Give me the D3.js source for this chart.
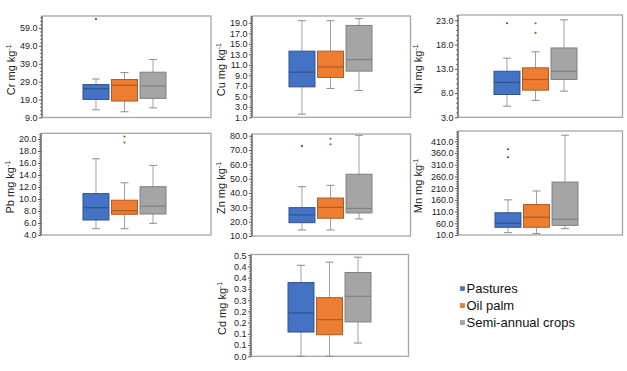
<!DOCTYPE html>
<html><head><meta charset="utf-8">
<script src="https://cdn.jsdelivr.net/npm/d3@7"></script>
<style>
html,body{margin:0;padding:0;background:#fff;}
svg{display:block;font-family:Arial,"Liberation Sans",sans-serif;}
</style></head>
<body>
<svg id="chart" width="627" height="371"></svg>
<script>
// ---------- data ----------
const categories = ["Pastures", "Oil palm", "Semi-annual crops"];
// each stat row: [lower whisker, Q1, median, Q3, upper whisker]
const crStats = [[13.3, 19.1, 25.1, 27.4, 30.5], [12.2, 18.2, 27.0, 30.2, 34.1], [14.4, 19.7, 26.6, 34.3, 41.4]];
const crOutliers = [[64.0], [], []];
const cuStats = [[1.6, 6.8, 9.6, 13.6, 19.4], [6.5, 8.6, 10.6, 13.6, 19.4], [6.1, 9.8, 12.0, 18.5, 19.8]];
const cuOutliers = [[], [], []];
const niStats = [[5.3, 7.7, 10.2, 12.5, 15.2], [6.5, 8.6, 10.8, 13.2, 16.5], [8.4, 10.8, 12.5, 17.3, 23.1]];
const niOutliers = [[22.4], [22.4, 20.4], []];
const pbStats = [[5.05, 6.5, 8.55, 10.9, 16.7], [5.05, 7.45, 8.05, 9.8, 12.7], [5.95, 7.5, 8.8, 12.05, 15.6]];
const pbOutliers = [[], [20.4, 19.4], []];
const znStats = [[14.2, 19.3, 24.7, 29.8, 44.4], [14.2, 22.4, 30.0, 36.5, 45.4], [21.9, 26.1, 29.3, 53.1, 80.3]];
const znOutliers = [[72.8], [77.9, 74.0], []];
const mnStats = [[20, 43, 60, 105, 160], [16, 43, 86, 140, 198], [37, 51, 77, 236, 436]];
const mnOutliers = [[376, 342], [], []];
const cdStats = [[0.0, 0.108, 0.193, 0.328, 0.405], [0.0, 0.096, 0.163, 0.261, 0.419], [0.059, 0.153, 0.267, 0.373, 0.441]];
const cdOutliers = [[], [], []];

const crTicks = [9, 19, 29, 39, 49, 59];
const cuTicks = [1, 3, 5, 7, 9, 11, 13, 15, 17, 19];
const niTicks = [3, 8, 13, 18, 23];
const pbTicks = [4, 6, 8, 10, 12, 14, 16, 18, 20];
const znTicks = [10, 20, 30, 40, 50, 60, 70, 80];
const mnTicks = [10, 60, 110, 160, 210, 260, 310, 360, 410];
const cdTicks = [0, 0.05, 0.10, 0.15, 0.20, 0.25, 0.30, 0.35, 0.40, 0.45];
const cdTickLabels = ["0.0", "0.1", "0.1", "0.2", "0.2", "0.3", "0.3", "0.4", "0.4", "0.5"];

// ---------- layout & style ----------
const fills = ["#4472C4", "#ED7D31", "#A5A5A5"];
const strokes = ["#2F528F", "#AE5A21", "#7F7F7F"];
const fmt1 = d3.format(".1f");

const panels = [
  {el: "Cr", stats: crStats, out: crOutliers, ticks: crTicks, dom: [9, 65.7], box: [42, 16, 211, 117.5], cx: 124.5, tOff: 27},
  {el: "Cu", stats: cuStats, out: cuOutliers, ticks: cuTicks, dom: [1, 20.3], box: [252, 16, 410.5, 117.3], cx: 330.5, tOff: 27},
  {el: "Ni", stats: niStats, out: niOutliers, ticks: niTicks, dom: [3, 24.1], box: [458, 15, 622.5, 117.3], cx: 535.5, tOff: 36},
  {el: "Pb", stats: pbStats, out: pbOutliers, ticks: pbTicks, dom: [4, 20.95], box: [41, 133.3, 211, 235], cx: 124.5, tOff: 27},
  {el: "Zn", stats: znStats, out: znOutliers, ticks: znTicks, dom: [10, 81.2], box: [252, 134, 410.5, 236], cx: 330.5, tOff: 27},
  {el: "Mn", stats: mnStats, out: mnOutliers, ticks: mnTicks, dom: [10, 454], box: [458, 131, 622.5, 235], cx: 536.5, tOff: 36},
  {el: "Cd", stats: cdStats, out: cdOutliers, ticks: cdTicks, labels: cdTickLabels, dom: [0, 0.453], box: [251, 254.5, 408.5, 356.3], cx: 329.5, tOff: 25}
];

const svg = d3.select("#chart");

panels.forEach(p => {
  const [x0, y0, x1, y1] = p.box;
  const g = svg.append("g");
  const y = d3.scaleLinear().domain(p.dom).range([y1, y0]);
  const x = d3.scaleBand().domain(categories).range([p.cx - 41.5, p.cx + 41.5]).paddingInner(0.09);
  const bw = x.bandwidth();

  // frame
  g.append("rect").attr("x", x0).attr("y", y0).attr("width", x1 - x0).attr("height", y1 - y0)
    .attr("fill", "none").attr("stroke", "#A6A6A6").attr("stroke-width", 1.3);

  // minor ticks
  const step = p.ticks[1] - p.ticks[0];
  const minor = [];
  for (let i = 0; i < p.ticks.length; i++) {
    for (let k = 1; k < 5; k++) {
      const v = p.ticks[i] + step * k / 5;
      if (v <= p.dom[1]) minor.push(v);
    }
  }
  g.append("g").attr("transform", `translate(${x0},0)`)
    .call(d3.axisLeft(y).tickValues(minor).tickSize(2).tickFormat(""))
    .call(a => a.select(".domain").remove())
    .selectAll("line").attr("stroke", "#777");

  // major axis
  const ax = g.append("g").attr("transform", `translate(${x0},0)`)
    .call(d3.axisLeft(y).tickValues(p.ticks).tickSize(3).tickPadding(1.5)
      .tickFormat((d, i) => p.labels ? p.labels[i] : fmt1(d)));
  ax.select(".domain").attr("stroke", "#555").attr("d", `M0,${y1}V${y0}`);
  ax.selectAll(".tick line").attr("stroke", "#555");
  ax.selectAll("text").attr("font-size", 9).attr("fill", "#222")
    .attr("font-family", "Arial, 'Liberation Sans', sans-serif");

  // axis title
  const t = g.append("text")
    .attr("transform", `translate(${x0 - p.tOff},${(y0 + y1) / 2 + 3}) rotate(-90)`)
    .attr("text-anchor", "middle").attr("font-size", 11).attr("fill", "#222");
  t.append("tspan").text(p.el + " mg kg");
  t.append("tspan").attr("font-size", 7).attr("dy", -4).text("-1");

  // boxes
  categories.forEach((c, i) => {
    const [lo, q1, med, q3, hi] = p.stats[i];
    const bx = x(c), cx = bx + bw / 2;
    const bg = g.append("g");
    bg.append("line").attr("x1", cx).attr("x2", cx).attr("y1", y(hi)).attr("y2", y(q3))
      .attr("stroke", "#A0A0A0").attr("stroke-width", 1);
    bg.append("line").attr("x1", cx).attr("x2", cx).attr("y1", y(q1)).attr("y2", y(lo))
      .attr("stroke", "#A0A0A0").attr("stroke-width", 1);
    [hi, lo].forEach(v => {
      bg.append("line").attr("x1", cx - 4).attr("x2", cx + 4).attr("y1", y(v)).attr("y2", y(v))
        .attr("stroke", "#8C8C8C").attr("stroke-width", 1);
    });
    bg.append("rect").attr("x", bx).attr("y", y(q3)).attr("width", bw).attr("height", y(q1) - y(q3))
      .attr("fill", fills[i]).attr("stroke", strokes[i]).attr("stroke-width", 1);
    bg.append("line").attr("x1", bx).attr("x2", bx + bw).attr("y1", y(med)).attr("y2", y(med))
      .attr("stroke", strokes[i]).attr("stroke-width", 1.2);
    p.out[i].forEach(v => {
      bg.append("circle").attr("cx", cx).attr("cy", y(v)).attr("r", 1.1).attr("fill", strokes[i]);
    });
  });
});

// legend
const leg = svg.append("g");
categories.forEach((c, i) => {
  const yy = 288.7 + i * 17;
  leg.append("rect").attr("x", 460.5).attr("y", yy - 2).attr("width", 4).attr("height", 4)
    .attr("fill", fills[i]).attr("stroke", strokes[i]).attr("stroke-width", 0.5);
  leg.append("text").attr("x", 466.5).attr("y", yy + 4.6).attr("font-size", 13).attr("fill", "#111").text(c);
});
</script>
</body></html>
